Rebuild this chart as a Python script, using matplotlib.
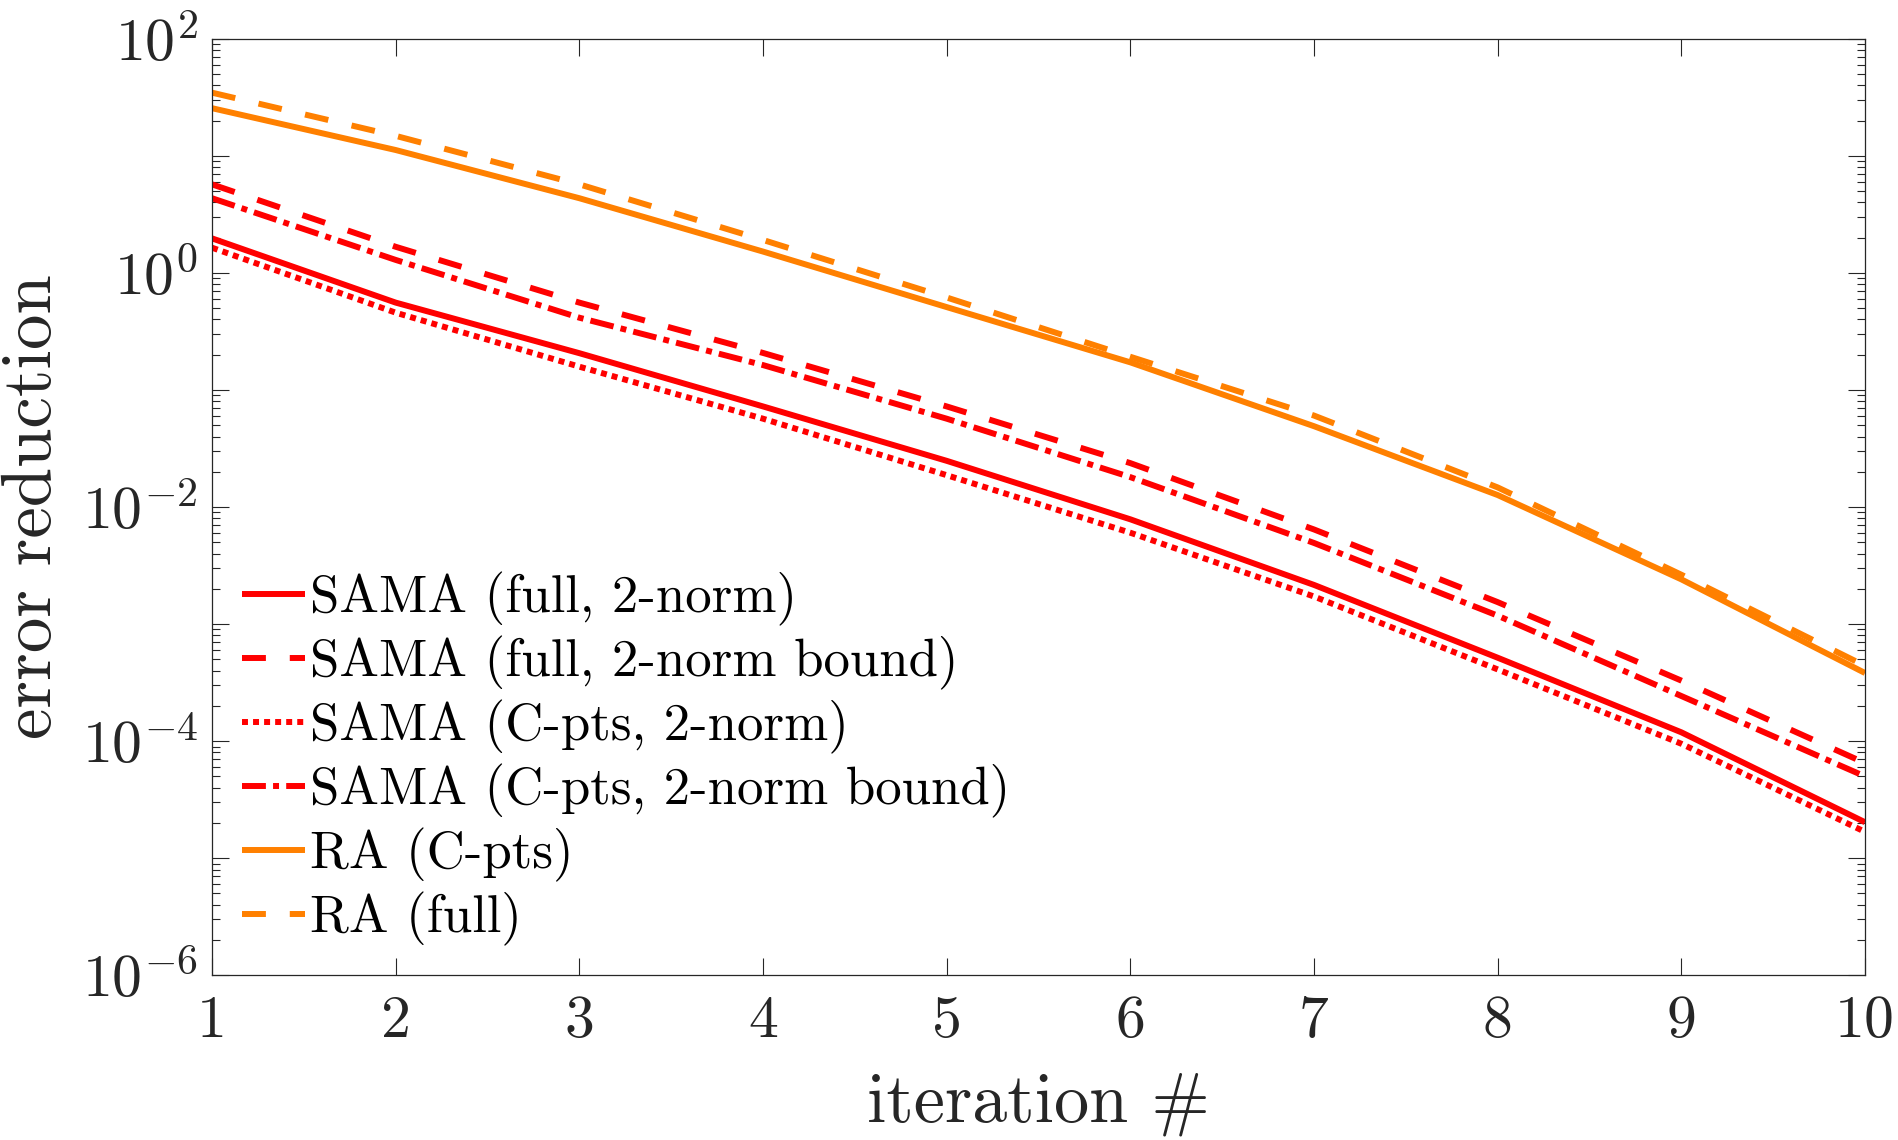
import numpy as np
import matplotlib
matplotlib.use("Agg")
import matplotlib.pyplot as plt
from matplotlib.ticker import FixedLocator, LogLocator, NullFormatter

plt.rcParams['font.family'] = ['cmr10', 'DejaVu Serif']
plt.rcParams['mathtext.fontset'] = 'cm'
plt.rcParams['axes.formatter.use_mathtext'] = True

# ---- data ----
iterations = [1, 2, 3, 4, 5, 6, 7, 8, 9, 10]
sama_full = [1.97, 0.557, 0.206, 0.0723, 0.0248, 0.00785, 0.00216, 0.000516, 0.000119, 2.03e-5]
sama_full_bound = [5.7, 1.67, 0.557, 0.207, 0.0723, 0.0237, 0.00643, 0.00154, 0.000329, 6.5e-5]
sama_cpts = [1.64, 0.457, 0.158, 0.0568, 0.0187, 0.00603, 0.00172, 0.00041, 9.5e-5, 1.68e-5]
sama_cpts_bound = [4.34, 1.29, 0.414, 0.163, 0.0568, 0.0180, 0.00493, 0.00118, 0.000243, 5.0e-5]
ra_cpts = [25.5, 11.2, 4.34, 1.52, 0.51, 0.172, 0.049, 0.01265, 0.00241, 0.000382]
ra_full = [34.6, 14.8, 5.7, 1.91, 0.616, 0.192, 0.0604, 0.0147, 0.00264, 0.00044]

labels = ["SAMA (full, 2-norm)", "SAMA (full, 2-norm bound)", "SAMA (C-pts, 2-norm)",
          "SAMA (C-pts, 2-norm bound)", "RA (C-pts)", "RA (full)"]
x_ticks = [1, 2, 3, 4, 5, 6, 7, 8, 9, 10]
y_label_exps = [2, 0, -2, -4, -6]

RED = '#ff0000'
ORANGE = '#ff8000'
AXC = '#262626'

fig = plt.figure(figsize=(18.98, 11.40), dpi=100)
ax = fig.add_axes([212/1898, 1-975.3/1140, (1865-212)/1898, (975.3-38.7)/1140])

lw = 4.3
dash = (0, (4, 4))
dot = (0, (1, 0.85))
dashdot = (0, (4, 1.2, 1, 1.2))

series = [
    (sama_full, RED, '-'),
    (sama_full_bound, RED, dash),
    (sama_cpts, RED, dot),
    (sama_cpts_bound, RED, dashdot),
    (ra_cpts, ORANGE, '-'),
    (ra_full, ORANGE, dash),
]
for (vals, col, ls), lab in zip(series, labels):
    ax.plot(iterations, vals, color=col, linestyle=ls, linewidth=lw, label=lab,
            dash_capstyle='butt', solid_capstyle='butt')

ax.set_yscale('log')
ax.set_xlim(1, 10)
ax.set_ylim(1e-6, 1e2)

ax.set_xticks(x_ticks)
ax.set_xticklabels([str(t) for t in x_ticks])
maj = [10.0**e for e in range(-6, 3)]
ax.yaxis.set_major_locator(FixedLocator(maj))
ax.set_yticklabels([(r'$10^{%d}$' % e) if e in y_label_exps else '' for e in range(-6, 3)])
ax.yaxis.set_minor_locator(LogLocator(base=10, subs=np.arange(2, 10), numticks=50))
ax.yaxis.set_minor_formatter(NullFormatter())

ax.tick_params(which='both', direction='in', top=True, right=True, color=AXC, width=0.8)
ax.tick_params(which='major', length=12)
ax.tick_params(which='minor', length=6)
ax.tick_params(axis='x', labelsize=43, pad=14, labelcolor=AXC)
ax.tick_params(axis='y', labelsize=43, pad=10, labelcolor=AXC)
for s in ax.spines.values():
    s.set_color(AXC)
    s.set_linewidth(0.9)

ax.set_xlabel('iteration #', fontsize=50.5, color=AXC, labelpad=17)
ax.set_ylabel('error reduction', fontsize=51, color=AXC, labelpad=12)

leg = ax.legend(loc='lower left', bbox_to_anchor=(0.018, 0.031), frameon=False,
                fontsize=38, handlelength=1.2, handletextpad=0.1,
                labelspacing=0.19, borderpad=0, borderaxespad=0)
for t in leg.get_texts():
    t.set_color('black')

fig.savefig('out.png', dpi=100)
